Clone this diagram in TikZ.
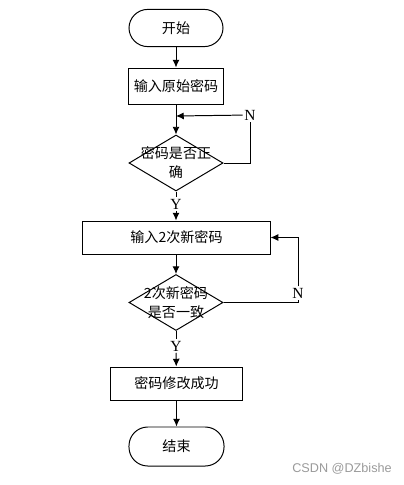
\documentclass[tikz,border=0pt]{standalone}
\usepackage{fontspec}
\setmainfont{Liberation Serif}
\newfontfamily\cjk{Noto Sans CJK SC}
\newfontfamily\wmfont{Liberation Sans}
\usepackage{xcolor}
\usepackage{tikz}
\usetikzlibrary{shapes.geometric,arrows.meta}
\definecolor{ink}{HTML}{000000}
\definecolor{wm}{HTML}{9A9A9A}
\tikzset{
  line/.style={draw=ink, line width=0.7pt},
  flow/.style={line, -{Latex[length=5.5pt,width=5pt]}},
  term/.style={line, rectangle, rounded corners=0.47cm, inner sep=0pt, font=\cjk\fontsize{10}{13}\selectfont},
  proc/.style={line, rectangle, inner sep=0pt, font=\cjk\fontsize{10}{13}\selectfont},
  test/.style={line, diamond, inner sep=0pt, minimum width=2.35cm, minimum height=1.4cm},
  testtext/.style={inner sep=0pt, align=center, font=\cjk\fontsize{10}{13.5}\selectfont},
  lab/.style={inner sep=1pt, font=\fontsize{11}{12}\selectfont},
}
\begin{document}
\begin{tikzpicture}[x=0.025cm,y=-0.025cm]
  \useasboundingbox (0,0) rectangle (403,485);
  \node[term, minimum width=2.35cm, minimum height=0.93cm] (start) at (176,28) {开始};
  \node[proc, minimum width=2.35cm, minimum height=0.9cm] (old) at (176,86) {输入原始密码};
  \node[test] (chk1) at (176,163) {};
  \node[testtext] (chk1t) at (176,163) {密码是否正\\确};
  \node[proc, minimum width=4.675cm, minimum height=0.825cm] (new) at (176.5,237.5) {输入2次新密码};
  \node[test] (chk2) at (176,302.5) {};
  \node[testtext] (chk2t) at (176,302.5) {2次新密码\\是否一致};
  \node[proc, minimum width=3.275cm, minimum height=0.825cm] (ok) at (176.5,383.5) {密码修改成功};
  \node[term, minimum width=2.375cm, minimum height=0.975cm] (stop) at (176.5,446.5) {结束};
  % loop labels
  \node[lab] (n1) at (250,115) {N};
  \node[lab] (y1) at (176,204) {Y};
  \node[lab] (n2) at (298,293) {N};
  \node[lab] (y2) at (176,346) {Y};
  \coordinate (j1) at (176,116);
  % connectors
  \draw[flow] (start) -- (old);
  \draw[flow] (old) -- (chk1);
  \draw[line] (chk1.east) -| (n1);
  \draw[flow] (n1) -- (j1);
  \draw[line] (chk1) -- (y1);
  \draw[flow] (y1) -- (y1 |- new.north);
  \draw[flow] (chk2 |- new.south) -- (chk2);
  \draw[line] (chk2.east) -| (n2);
  \draw[flow] (n2) |- (new.east);
  \draw[line] (chk2) -- (y2);
  \draw[flow] (y2) -- (ok);
  \draw[flow] (ok) -- (stop);
  \node[text=wm, font=\wmfont\fontsize{9}{10}\selectfont] (mark) at (342,469) {CSDN @DZbishe};
\end{tikzpicture}
\end{document}
